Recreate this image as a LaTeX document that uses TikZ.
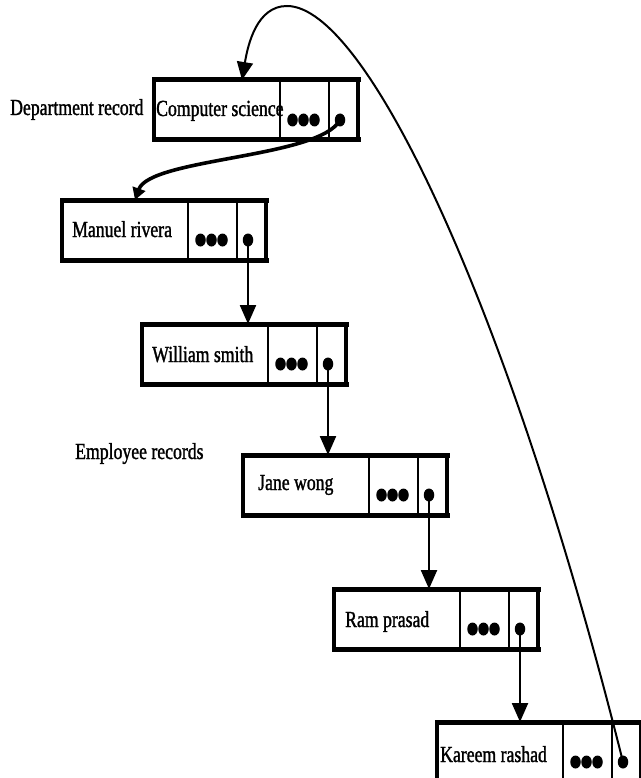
\documentclass[tikz,border=0pt]{standalone}
\usepackage{fontspec}
\setmainfont{Liberation Serif}[FakeStretch=0.77,FakeBold=1.3]
\usetikzlibrary{arrows.meta,calc,shapes.geometric}

\tikzset{
  cell/.style={draw, line width=2pt, minimum height=60pt, inner sep=0pt, outer sep=0pt, anchor=north west},
  namecell/.style={cell, minimum width=126pt},
  etccell/.style={cell, minimum width=49pt},
  ptrcell/.style={cell, minimum width=29pt},
  frame/.style={line width=3.3pt},
  rule/.style={line width=5pt, line cap=rect},
  bullet/.style={ellipse, fill, draw=none, minimum width=10.5pt, minimum height=13pt, inner sep=0pt},
  lbl/.style={anchor=base west, inner sep=0pt, font=\fontsize{23}{26}\selectfont},
  link/.style={line width=2.3pt, -{Triangle[length=19pt,width=16pt]}},
  curvelink/.style={line width=3.6pt, -{Triangle[length=12pt,width=13pt]}},
  backlink/.style={line width=2pt, -{Triangle[length=18pt,width=16pt]}},
}

% one record: id, left, top, text x-offset, baseline offset, name
\newcommand\recbox[6]{%
  \node[namecell] (n#1) at (#2,#3) {};
  \node[etccell] (e#1) at (n#1.north east) {};
  \node[ptrcell] (p#1) at (e#1.north east) {};
  \draw[frame] (n#1.north west) rectangle (p#1.south east);
  \draw[rule] (n#1.north west) -- (p#1.north east);
  \draw[rule] (n#1.south west) -- (p#1.south east);
  \node[lbl] (t#1) at ($(n#1.north west)+(#4,#5)$) {#6};
  \node[bullet] (a#1) at ($(e#1.north)+(-12,40)$) {};
  \node[bullet] (b#1) at ($(e#1.north)+(-1,40)$) {};
  \node[bullet] (c#1) at ($(e#1.north)+(10,40)$) {};
  \node[bullet] (q#1) at ($(p#1.north west)+(11,40)$) {};
}

\begin{document}
\begin{tikzpicture}[x=1pt,y=-1pt]
  \useasboundingbox (0,0) rectangle (640,778);

  % records
  \recbox{1}{154}{80}{2}{36}{Computer science}
  \recbox{2}{62}{200}{10}{37}{Manuel rivera}
  \recbox{3}{142}{324}{10}{38}{William smith}
  \recbox{4}{243}{455}{15}{35}{Jane wong}
  \recbox{5}{334}{589}{11}{38}{Ram prasad}
  \recbox{6}{437}{722}{3}{40}{Kareem rashad}

  % side labels
  \node[lbl] (deptlbl) at (10,115) {Department record};
  \node[lbl] (emplbl) at (75,459) {Employee records};

  % chain of pointers
  \coordinate (in2) at ($(n2.north west)+(73,0)$);
  \draw[curvelink] (q1.center) .. controls (320,158) and (150,158) .. (in2);
  \draw[link] (q2.center) -- (q2.center |- n3.north);
  \draw[link] (q3.center) -- (q3.center |- n4.north);
  \draw[link] (q4.center) -- (q4.center |- n5.north);
  \draw[link] (q5.center) -- (q5.center |- n6.north);

  % last record points back to the department record
  \coordinate (in1) at ($(n1.north west)+(88,0)$);
  \coordinate (apex) at (287,6);
  \draw[backlink] (q6.center) .. controls (510,310) and (367,6) .. (apex)
                  .. controls (257,6) and (248,44) .. (in1);
\end{tikzpicture}
\end{document}
